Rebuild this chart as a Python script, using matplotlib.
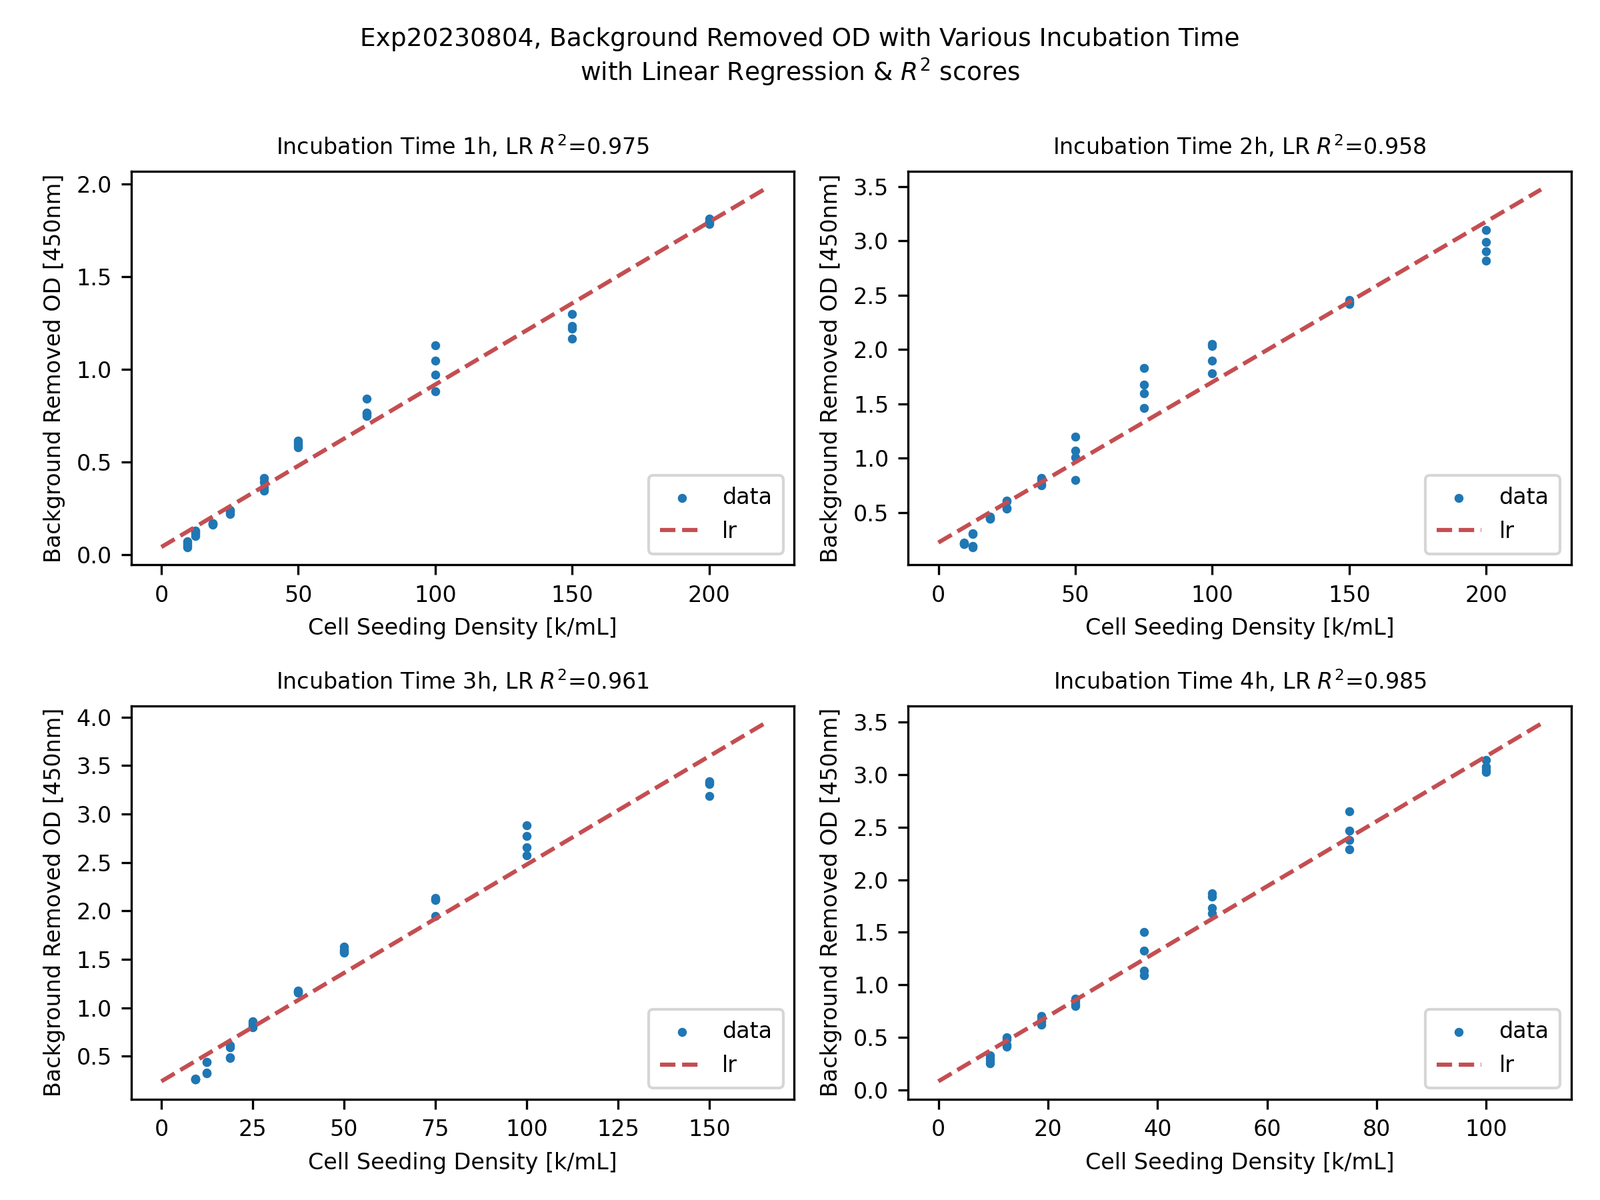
import numpy as np
import matplotlib
matplotlib.use('Agg')
import matplotlib.pyplot as plt
from matplotlib.ticker import MultipleLocator

# seeding densities [k/mL]
dens_1h = [9.375]*4 + [12.5]*4 + [18.75]*4 + [25]*4 + [37.5]*4 + [50]*4 + [75]*4 + [100]*4 + [150]*4 + [200]*4
dens_2h = dens_1h
dens_3h = dens_1h[:36]
dens_4h = dens_1h[:32]

# background removed OD at 450nm
od_1h = [0.04, 0.05, 0.06, 0.07,
         0.10, 0.11, 0.12, 0.13,
         0.16, 0.165, 0.17, 0.17,
         0.22, 0.23, 0.235, 0.24,
         0.343, 0.364, 0.39, 0.412,
         0.58, 0.59, 0.60, 0.614,
         0.749, 0.758, 0.767, 0.84,
         0.882, 0.971, 1.046, 1.128,
         1.165, 1.22, 1.235, 1.30,
         1.785, 1.79, 1.80, 1.812]
od_2h = [0.212, 0.215, 0.22, 0.21,
         0.307, 0.30, 0.181, 0.19,
         0.44, 0.45, 0.46, 0.44,
         0.607, 0.60, 0.536, 0.54,
         0.819, 0.80, 0.748, 0.76,
         1.195, 1.069, 1.005, 0.80,
         1.833, 1.676, 1.595, 1.462,
         2.052, 2.033, 1.90, 1.783,
         2.457, 2.44, 2.43, 2.417,
         3.10, 2.99, 2.905, 2.819]
od_3h = [0.263, 0.265, 0.27, 0.26,
         0.442, 0.324, 0.33, 0.44,
         0.61, 0.59, 0.49, 0.48,
         0.863, 0.84, 0.82, 0.797,
         1.176, 1.17, 1.158, 1.16,
         1.63, 1.60, 1.566, 1.58,
         2.13, 2.11, 2.12, 1.95,
         2.88, 2.776, 2.655, 2.576,
         3.337, 3.31, 3.32, 3.184]
od_4h = [0.33, 0.30, 0.28, 0.255,
         0.50, 0.48, 0.43, 0.41,
         0.70, 0.67, 0.65, 0.62,
         0.868, 0.85, 0.82, 0.80,
         1.50, 1.325, 1.135, 1.09,
         1.87, 1.84, 1.73, 1.68,
         2.65, 2.47, 2.38, 2.29,
         3.14, 3.075, 3.05, 3.025]

hours = ['1h', '2h', '3h', '4h']
r2_scores = ['0.975', '0.958', '0.961', '0.985']
all_dens = [dens_1h, dens_2h, dens_3h, dens_4h]
all_od = [od_1h, od_2h, od_3h, od_4h]

fig, axes = plt.subplots(2, 2, figsize=(8, 6), dpi=300)
fig.suptitle('Exp20230804, Background Removed OD with Various Incubation Time\n'
             'with Linear Regression & $R^2$ scores', fontsize=9, y=0.977)

for ax, h, r2, x, y in zip(axes.flat, hours, r2_scores, all_dens, all_od):
    x = np.array(x)
    y = np.array(y)
    slope, icpt = np.polyfit(x, y, 1)
    xl = np.linspace(0, 1.1*x.max(), 50)
    ax.scatter(x, y, s=5, color='#1f77b4', label='data')
    ax.plot(xl, slope*xl + icpt, '--', color='#c44e52', linewidth=1.5, label='lr')
    ax.set_title('Incubation Time ' + h + ', LR $R^2$=' + r2, fontsize=8)
    ax.set_xlabel('Cell Seeding Density [k/mL]', fontsize=8)
    ax.set_ylabel('Background Removed OD [450nm]', fontsize=8)
    ax.yaxis.set_major_locator(MultipleLocator(0.5))
    ax.tick_params(labelsize=8)
    ax.legend(loc='lower right', fontsize=8, borderpad=0.5, labelspacing=0.55)

plt.subplots_adjust(left=0.082, right=0.982, top=0.857, bottom=0.084, wspace=0.172, hspace=0.358)
plt.savefig('out.png')
